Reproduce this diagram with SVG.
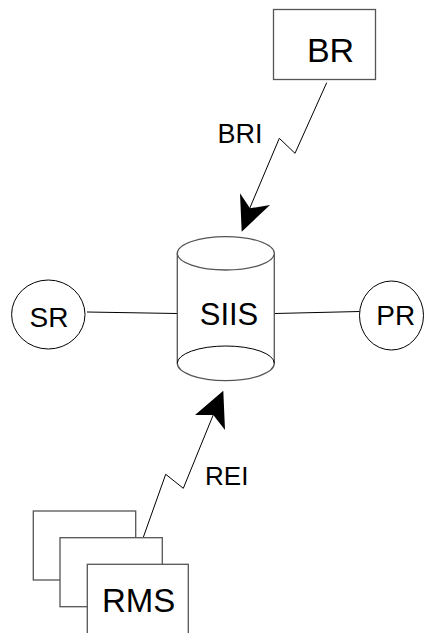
<svg xmlns="http://www.w3.org/2000/svg" width="424" height="633" viewBox="0 0 424 633">
  <style>
    .box { fill: #fff; stroke: #555; stroke-width: 1.3; }
    .oval { fill: #fff; stroke: #000; stroke-width: 1; }
    .wire { fill: none; stroke: #000; stroke-width: 1; }
    .head { fill: #000; stroke: none; }
    text { font-family: "Liberation Sans", Arial, sans-serif; fill: #000; text-anchor: middle; }
  </style>
  <rect width="424" height="633" fill="#fff"/>

  <!-- connectors -->
  <g id="connectors">
    <line class="wire" x1="87" y1="312" x2="177" y2="313.5"/>
    <line class="wire" x1="275" y1="313.5" x2="359.5" y2="311.5"/>
    <polyline class="wire" points="326.7,82.7 295,153.3 279.3,138.3 249,210"/>
    <polygon class="head" points="241.7,231.7 240,193.3 250,208.3 270,205"/>
    <polyline class="wire" points="143.3,537.3 165.7,474.3 183.3,488.3 214,413"/>
    <polygon class="head" points="223.3,390.7 195,415 213.3,415 225,430"/>
    <text x="240" y="143.3" font-size="27">BRI</text>
    <text x="226.7" y="485" font-size="26">REI</text>
  </g>

  <g id="BR">
    <rect class="box" x="273.5" y="9.5" width="102" height="70"/>
    <text x="330.5" y="61.7" font-size="34">BR</text>
  </g>

  <g id="SIIS">
    <path class="box" d="M177.3,253.3 V363.3 A48.5,17.3 0 0 0 274.3,363.3 V253.3"/>
    <ellipse class="box" cx="225.8" cy="253.3" rx="48.5" ry="16.7"/>
    <path fill="none" stroke="#000" stroke-width="1" d="M177.3,363.3 A48.5,17.3 0 0 1 274.3,363.3"/>
    <text x="229" y="324.5" font-size="31">SIIS</text>
  </g>

  <g id="SR">
    <ellipse class="oval" cx="48.3" cy="314.5" rx="36.7" ry="34.5"/>
    <text x="49" y="326.7" font-size="28">SR</text>
  </g>

  <g id="PR">
    <ellipse class="oval" cx="391.5" cy="315.5" rx="32" ry="34.5"/>
    <text x="395.8" y="325" font-size="28">PR</text>
  </g>

  <g id="RMS">
    <rect class="box" x="33.3" y="511" width="102.4" height="69"/>
    <rect class="box" x="60" y="537.7" width="102.3" height="69"/>
    <rect class="box" x="87.3" y="564.3" width="101" height="70"/>
    <text x="138.7" y="611.7" font-size="33">RMS</text>
  </g>
</svg>
